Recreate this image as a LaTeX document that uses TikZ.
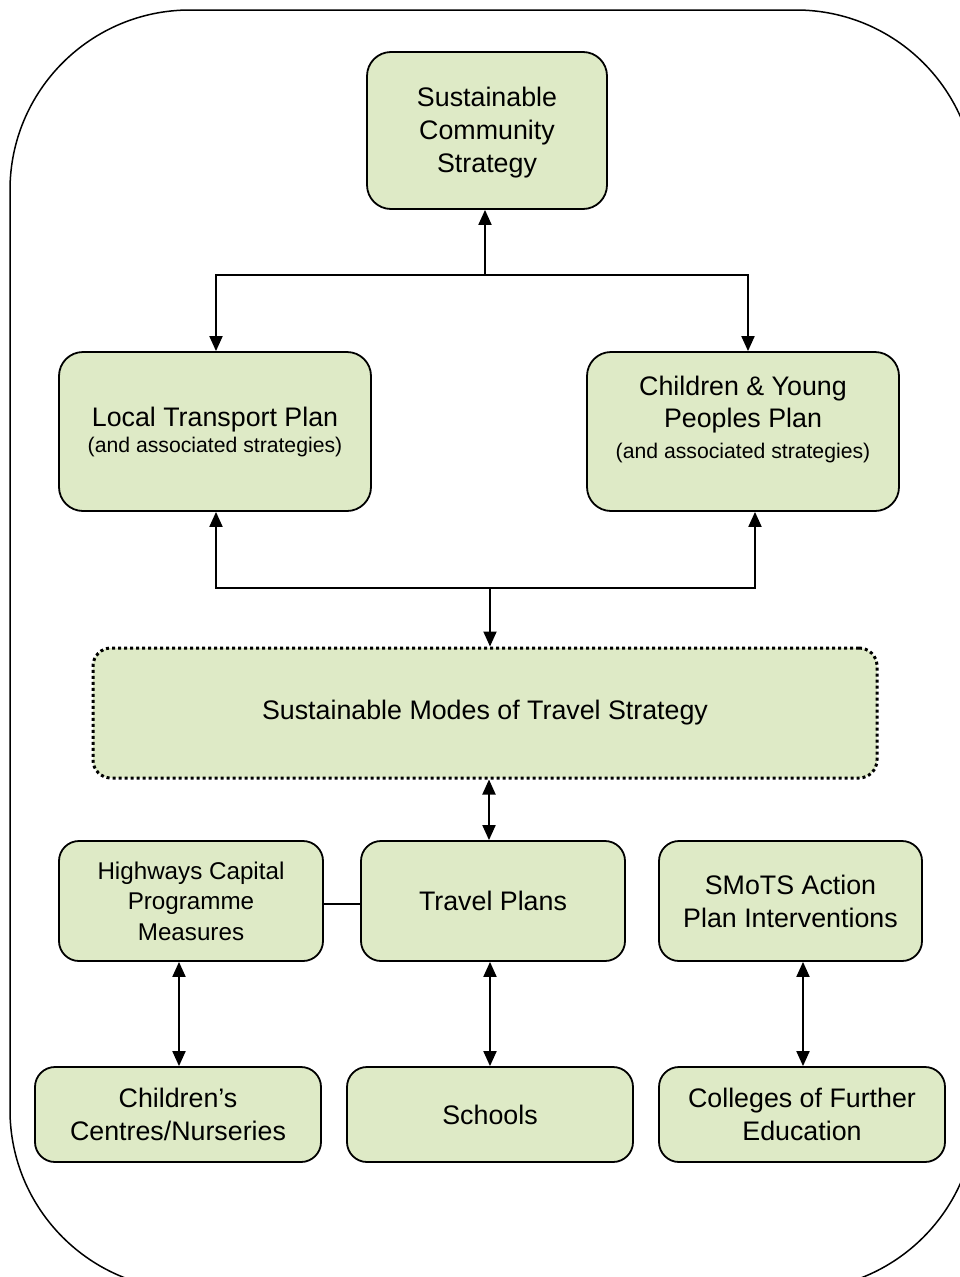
\documentclass[tikz,border=0pt]{standalone}
\usepackage{fontspec}
\setmainfont{Liberation Sans}
\usetikzlibrary{arrows.meta,calc}
\definecolor{boxgreen}{RGB}{222,234,198}
\begin{document}
\begin{tikzpicture}[x=1pt,y=-1pt,
  box/.style={draw=black,line width=1.8pt,fill=boxgreen,rounded corners=24pt,align=center,inner sep=0pt},
  dotbox/.style={draw=black,line width=3pt,dash pattern=on 3pt off 3pt,fill=boxgreen,rounded corners=18pt,align=center,inner sep=0pt},
  conn/.style={line width=1.9pt},
  arr/.style={conn,-{Triangle[width=13pt 0 0,length=15pt 0 0]}},
  darr/.style={conn,{Triangle[width=13pt 0 0,length=15pt 0 0]}-{Triangle[width=13pt 0 0,length=15pt 0 0]}},
  big/.style={font=\fontsize{26.8}{33}\selectfont},
  mid/.style={font=\fontsize{24.2}{30.5}\selectfont}]
\useasboundingbox (0,0) rectangle (960,1277);
\begin{scope}
\clip (0,0) rectangle (960,1277);
\draw[line width=1.5pt,rounded corners=180pt] (10,10) rectangle (976,1290);
\end{scope}

\node[box,minimum width=240pt,minimum height=157pt] (scs) at (487,130.5) {};
\node[big,align=center,inner sep=0pt] (scstext) at ($(scs.center)+(0,2)$) {Sustainable\\Community\\Strategy};
\node[box,font=\fontsize{26.8}{26}\selectfont,minimum width=312pt,minimum height=159pt] (ltp) at (215,431.5) {Local Transport Plan\\{\fontsize{21.2}{24}\selectfont (and associated strategies)}};
\node[box,minimum width=312pt,minimum height=159pt] (cypp) at (743,431.5) {};
\node[font=\fontsize{26.8}{32}\selectfont,align=center,inner sep=0pt] (cypptext) at ($(cypp.center)+(0,-12)$) {Children \& Young\\Peoples Plan\\[-1pt]{\fontsize{21.2}{24}\selectfont (and associated strategies)}};
\node[dotbox,big,minimum width=784pt,minimum height=130pt] (smt) at (485,713) {Sustainable Modes of Travel Strategy};
\node[box,mid,rounded corners=20pt,minimum width=264pt,minimum height=120pt] (hcp) at (191,901) {Highways Capital\\Programme\\Measures};
\node[box,big,rounded corners=20pt,minimum width=264pt,minimum height=120pt] (tp) at (493,901) {Travel Plans};
\node[box,big,rounded corners=20pt,minimum width=263pt,minimum height=120pt] (sap) at (790.5,901) {SMoTS Action\\Plan Interventions};
\node[box,big,rounded corners=20pt,minimum width=286pt,minimum height=95pt] (cc) at (178,1114.5) {Children's\\Centres/Nurseries};
\node[box,big,rounded corners=20pt,minimum width=286pt,minimum height=95pt] (sch) at (490,1114.5) {Schools};
\node[box,big,rounded corners=20pt,minimum width=286pt,minimum height=95pt] (col) at (802,1114.5) {Colleges of Further\\Education};

% top junction
\coordinate (j1) at (485,275);
\coordinate (ltpN) at ($(ltp.north)+(1,0)$);
\coordinate (cyN) at ($(cypp.north)+(5,0)$);
\draw[arr] (j1) -- (j1 |- scs.south);
\draw[arr] (j1) -| (ltpN);
\draw[arr] (j1) -| (cyN);

% middle junction
\coordinate (j2) at (490,588);
\coordinate (ltpS) at ($(ltp.south)+(1,0)$);
\coordinate (cyS) at ($(cypp.south)+(12,0)$);
\draw[arr] (j2) -| (ltpS);
\draw[arr] (j2) -| (cyS);
\draw[arr] (j2) -- (j2 |- smt.north);

% strategy to travel plans
\coordinate (tpN) at ($(tp.north)+(-4,0)$);
\draw[darr] (tpN) -- (tpN |- smt.south);

% highways to travel plans
\coordinate (hy) at (0,904);
\draw[conn] (hcp.east |- hy) -- (tp.west |- hy);

% lower double arrows
\coordinate (ccN) at ($(cc.north)+(1,0)$);
\coordinate (colN) at ($(col.north)+(1,0)$);
\draw[darr] (ccN) -- (ccN |- hcp.south);
\draw[darr] (sch.north) -- (sch.north |- tp.south);
\draw[darr] (colN) -- (colN |- sap.south);
\end{tikzpicture}
\end{document}
